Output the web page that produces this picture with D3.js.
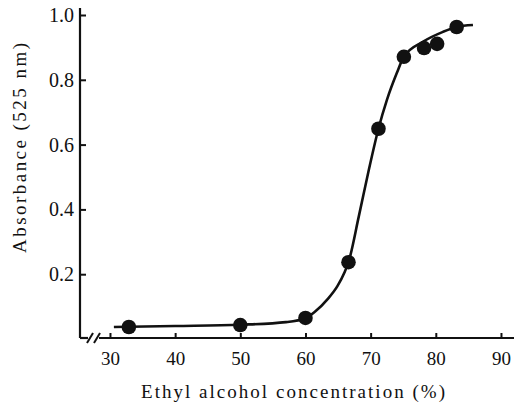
<!DOCTYPE html>
<html>
<head>
  <meta charset="utf-8">
  <script src="https://d3js.org/d3.v7.min.js"></script>
  <style>
  body { margin: 0; background: #fff; }
  </style>
</head>
<body>
<div id="chart"></div>
<script>
// measured points (ethyl alcohol %, absorbance at 525 nm)
var conc = [32.9, 50.0, 60.0, 66.6, 71.2, 75.1, 78.2, 80.2, 83.2];
var absorb = [0.037, 0.043, 0.065, 0.237, 0.649, 0.871, 0.898, 0.911, 0.963];
// fitted curve
var curveConc = [30.6, 40, 50, 57, 60, 61.4, 63.4, 64.9, 66.0, 66.6, 68.2, 69.7, 71.2, 72.5, 74, 75.1, 78.0, 81.1, 83.2, 85.7];
var curveAbs = [0.037, 0.040, 0.044, 0.052, 0.064, 0.083, 0.123, 0.163, 0.206, 0.237, 0.38, 0.52, 0.649, 0.738, 0.82, 0.871, 0.917, 0.948, 0.963, 0.969];
var xTicks = [30, 40, 50, 60, 70, 80, 90];
var yTicks = [0.2, 0.4, 0.6, 0.8, 1.0];

var W = 514, H = 413;
var LEFT = 80, BOTTOM = 338;
var FONT = "'Liberation Serif'";

var svg = d3.select("#chart").append("svg")
  .attr("width", W)
  .attr("height", H);

var x = d3.scaleLinear().domain([25.4, 92]).range([LEFT, 514]);
var y = d3.scaleLinear().domain([0, 1]).range([339, 15]);

// y axis, ticks pointing in
var yAxis = svg.append("g")
  .attr("transform", "translate(" + LEFT + ",0)")
  .call(d3.axisLeft(y).tickValues(yTicks).tickSize(-6).tickPadding(6)
    .tickFormat(d3.format(".1f")));
yAxis.select(".domain").remove();
yAxis.selectAll("line").attr("stroke", "#111").attr("stroke-width", 2);
yAxis.selectAll("text").style("font-family", FONT).style("font-size", "20px").attr("fill", "#111");
svg.append("line")
  .attr("x1", LEFT).attr("x2", LEFT)
  .attr("y1", 8).attr("y2", BOTTOM)
  .attr("stroke", "#111").attr("stroke-width", 2.2);

// x axis, ticks pointing in
var xAxis = svg.append("g")
  .attr("transform", "translate(0," + BOTTOM + ")")
  .call(d3.axisBottom(x).tickValues(xTicks).tickSize(-5).tickPadding(14));
xAxis.select(".domain").remove();
xAxis.selectAll("line").attr("stroke", "#111").attr("stroke-width", 2);
xAxis.selectAll("text").style("font-family", FONT).style("font-size", "19px").attr("fill", "#111");

// x axis line with break
svg.append("line")
  .attr("x1", LEFT).attr("x2", LEFT + 8)
  .attr("y1", BOTTOM).attr("y2", BOTTOM)
  .attr("stroke", "#111").attr("stroke-width", 2.2);
svg.append("line")
  .attr("x1", LEFT + 19).attr("x2", W)
  .attr("y1", BOTTOM).attr("y2", BOTTOM)
  .attr("stroke", "#111").attr("stroke-width", 2.2);
[LEFT + 10, LEFT + 17].forEach(function(bx) {
  svg.append("line")
    .attr("x1", bx - 3).attr("x2", bx + 3)
    .attr("y1", BOTTOM + 5).attr("y2", BOTTOM - 5)
    .attr("stroke", "#111").attr("stroke-width", 2);
});

// fitted curve
var line = d3.line()
  .x(function(d, i) { return x(curveConc[i]); })
  .y(function(d, i) { return y(curveAbs[i]); })
  .curve(d3.curveMonotoneX);
svg.append("path")
  .attr("d", line(curveConc))
  .attr("fill", "none")
  .attr("stroke", "#111")
  .attr("stroke-width", 2.6);

// points
svg.selectAll("circle.pt")
  .data(conc)
  .enter().append("circle")
  .attr("class", "pt")
  .attr("cx", function(d) { return x(d); })
  .attr("cy", function(d, i) { return y(absorb[i]); })
  .attr("r", 7.3)
  .attr("fill", "#111");

// axis titles
svg.append("text")
  .attr("x", 293).attr("y", 398)
  .attr("text-anchor", "middle")
  .attr("textLength", 304)
  .attr("lengthAdjust", "spacing")
  .attr("fill", "#111")
  .style("font-family", FONT)
  .style("font-size", "19px")
  .text("Ethyl alcohol concentration (%)");

svg.append("text")
  .attr("transform", "translate(26,148) rotate(-90)")
  .attr("text-anchor", "middle")
  .attr("textLength", 210)
  .attr("lengthAdjust", "spacing")
  .attr("fill", "#111")
  .style("font-family", FONT)
  .style("font-size", "19px")
  .text("Absorbance (525 nm)");
</script>
</body>
</html>
